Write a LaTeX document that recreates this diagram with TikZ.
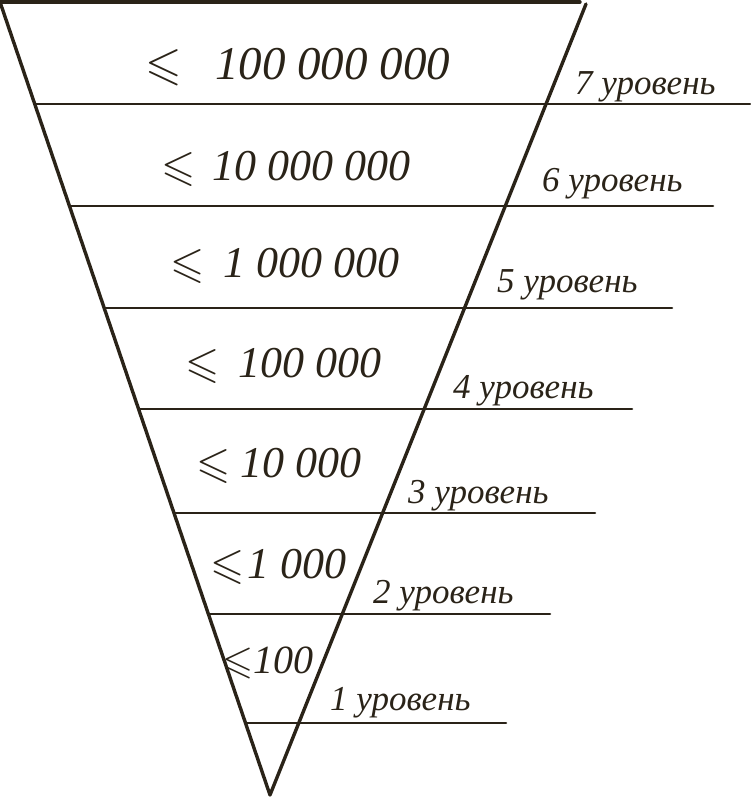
\documentclass[tikz,border=0pt]{standalone}
\usepackage{amssymb}
\usepackage{fontspec}
\setmainfont{Liberation Serif}
\definecolor{ink}{HTML}{2A2318}
\tikzset{
  edge/.style={draw=ink, line width=3.4pt, line cap=round, line join=round},
  rule/.style={draw=ink, line width=2.6pt, line cap=round},
  num/.style={text=ink, anchor=base west, inner sep=0pt, font=\fontsize{44}{50}\itshape\selectfont},
  lvl/.style={text=ink, anchor=base west, inner sep=0pt, font=\fontsize{35}{40}\itshape\selectfont},
}
\newcommand{\leqbox}[1]{\makebox[#1pt][l]{$\leqslant$}}
\begin{document}
\begin{tikzpicture}[x=1pt, y=-1pt]
\useasboundingbox (0,0) rectangle (750,805);
% triangle
\coordinate (tl) at (0,2);
\coordinate (tt) at (580,2);
\coordinate (tr) at (586,4);
\coordinate (apex) at (270,795);
\draw[edge] (tl) -- (tt);
\draw[edge] (tl) -- (apex) -- (tr);
% horizontal rules
\foreach \i/\y/\xe in {1/104/750, 2/206/713, 3/308/672, 4/409/632, 5/513/595, 6/614/550, 7/723/506}{
  \coordinate (l\i) at ({0.34*\y},\y);
  \coordinate (r\i) at (\xe,\y);
  \draw[rule] (l\i) -- (r\i);
}
% numbers
\node[num, font=\fontsize{47}{52}\itshape\selectfont] (n7) at (145,80) {\leqbox{70}100 000 000};
\node[num] (n6) at (161,180) {\leqbox{51}10 000 000};
\node[num] (n5) at (170,277) {\leqbox{53}1 000 000};
\node[num] (n4) at (185,377) {\leqbox{53}100 000};
\node[num] (n3) at (196,477) {\leqbox{44}10 000};
\node[num] (n2) at (210,578) {\leqbox{37}1 000};
\node[num, font=\fontsize{40}{45}\itshape\selectfont] (n1) at (222,673) {\leqbox{31}100};
% level labels
\node[lvl] (v7) at (575,95) {7 уровень};
\node[lvl] (v6) at (542,192) {6 уровень};
\node[lvl] (v5) at (497,292) {5 уровень};
\node[lvl] (v4) at (453,398) {4 уровень};
\node[lvl] (v3) at (408,503) {3 уровень};
\node[lvl] (v2) at (373,603) {2 уровень};
\node[lvl] (v1) at (330,710) {1 уровень};
\end{tikzpicture}
\end{document}
